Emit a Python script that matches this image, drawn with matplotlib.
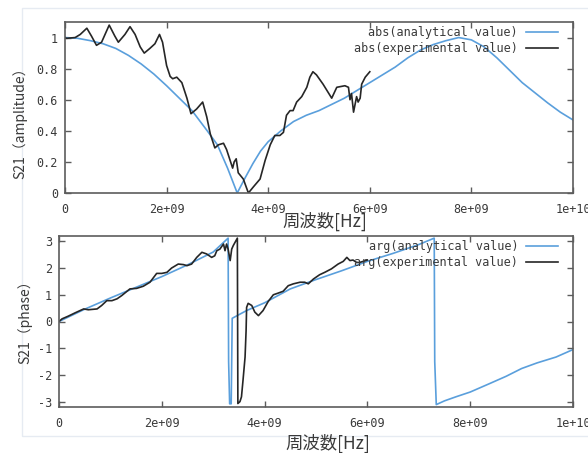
import matplotlib
matplotlib.use("Agg")
import matplotlib.pyplot as plt
import numpy as np
from matplotlib.patches import Rectangle

# frequencies are kept in GHz and scaled to Hz when plotted
AMP_ANA_F = [0.0, 0.25, 0.5, 0.75, 1.0, 1.25, 1.5, 1.75, 2.0, 2.25, 2.5, 2.65, 2.8, 3.0, 3.2,
             3.39, 3.55, 3.7, 3.85, 4.0, 4.25, 4.5, 4.75, 5.0, 5.25, 5.5, 5.75, 6.0, 6.25, 6.5,
             6.75, 7.0, 7.25, 7.5, 7.75, 8.0, 8.25, 8.5, 8.75, 9.0, 9.25, 9.5, 9.75, 10.0]
AMP_ANA_V = [1.0, 0.995, 0.98, 0.96, 0.93, 0.885, 0.83, 0.765, 0.69, 0.61, 0.53, 0.465, 0.4,
             0.31, 0.16, 0.0, 0.1, 0.19, 0.27, 0.33, 0.4, 0.46, 0.5, 0.53, 0.57, 0.61, 0.66,
             0.71, 0.76, 0.81, 0.87, 0.92, 0.955, 0.98, 1.0, 0.985, 0.94, 0.87, 0.79, 0.71,
             0.645, 0.58, 0.52, 0.47]

AMP_EXP_F = [0.0, 0.03, 0.2, 0.3, 0.43, 0.52, 0.62, 0.72, 0.87, 0.98, 1.05, 1.18, 1.28, 1.38,
             1.48, 1.56, 1.67, 1.77, 1.86, 1.92, 2.0, 2.07, 2.12, 2.2, 2.3, 2.4, 2.48, 2.59,
             2.71, 2.79, 2.86, 2.95, 3.02, 3.12, 3.18, 3.25, 3.3, 3.33, 3.37, 3.41, 3.51, 3.61,
             3.71, 3.84, 3.94, 4.04, 4.13, 4.23, 4.3, 4.36, 4.43, 4.49, 4.56, 4.66, 4.76, 4.82,
             4.88, 4.95, 5.08, 5.25, 5.35, 5.51, 5.58, 5.61, 5.64, 5.68, 5.74, 5.77, 5.81, 5.84,
             5.91, 6.0]
AMP_EXP_V = [1.0, 0.995, 1.0, 1.02, 1.06, 1.01, 0.95, 0.97, 1.08, 1.01, 0.97, 1.02, 1.07, 1.02,
             0.94, 0.9, 0.93, 0.96, 1.02, 0.97, 0.82, 0.75, 0.735, 0.745, 0.71, 0.61, 0.51, 0.54,
             0.585, 0.49, 0.38, 0.29, 0.31, 0.32, 0.28, 0.21, 0.16, 0.2, 0.22, 0.13, 0.09, 0.0,
             0.04, 0.09, 0.21, 0.31, 0.37, 0.37, 0.39, 0.5, 0.53, 0.53, 0.585, 0.62, 0.68, 0.745,
             0.78, 0.76, 0.7, 0.61, 0.68, 0.69, 0.68, 0.6, 0.64, 0.52, 0.62, 0.585, 0.61, 0.7,
             0.745, 0.78]

PHASE_ANA_F = [0.0, 0.5, 1.0, 1.5, 2.0, 2.5, 3.0, 3.29, 3.3, 3.32, 3.35, 3.37, 3.65, 4.0, 4.5,
               5.0, 5.5, 6.0, 6.5, 7.0, 7.3, 7.31, 7.34, 7.5, 7.72, 8.0, 8.37, 8.7, 9.0, 9.3,
               9.67, 10.0]
PHASE_ANA_V = [0.0, 0.46, 0.88, 1.28, 1.68, 2.12, 2.6, 3.12, -1.5, -3.08, -3.08, 0.12, 0.41, 0.7,
               1.22, 1.57, 1.9, 2.25, 2.55, 2.88, 3.12, -1.5, -3.11, -2.97, -2.82, -2.64, -2.33,
               -2.05, -1.76, -1.55, -1.33, -1.05]

PHASE_EXP_F = [0.0, 0.06, 0.18, 0.32, 0.48, 0.57, 0.74, 0.83, 0.93, 1.03, 1.13, 1.22, 1.38, 1.51,
               1.64, 1.77, 1.9, 2.0, 2.1, 2.19, 2.32, 2.42, 2.49, 2.58, 2.68, 2.78, 2.87, 2.97,
               3.03, 3.07, 3.13, 3.2, 3.23, 3.26, 3.29, 3.33, 3.36, 3.39, 3.47, 3.48, 3.52, 3.55,
               3.58, 3.62, 3.64, 3.65, 3.68, 3.75, 3.81, 3.88, 3.97, 4.07, 4.17, 4.26, 4.36, 4.46,
               4.56, 4.69, 4.78, 4.85, 4.95, 5.07, 5.17, 5.3, 5.43, 5.53, 5.6, 5.66, 5.72, 5.79,
               5.85, 6.0]
PHASE_EXP_V = [0.0, 0.1, 0.2, 0.33, 0.47, 0.44, 0.47, 0.6, 0.78, 0.78, 0.85, 0.97, 1.22, 1.24,
               1.32, 1.47, 1.8, 1.8, 1.84, 2.0, 2.15, 2.13, 2.09, 2.15, 2.4, 2.59, 2.53, 2.4,
               2.46, 2.65, 2.71, 2.9, 2.65, 2.9, 2.71, 2.28, 2.71, 2.84, 3.12, -3.07, -3.0, -2.82,
               -2.2, -1.33, -0.34, 0.53, 0.68, 0.6, 0.35, 0.22, 0.41, 0.75, 1.0, 1.06, 1.13, 1.34,
               1.41, 1.47, 1.47, 1.41, 1.59, 1.75, 1.84, 1.97, 2.15, 2.25, 2.4, 2.28, 2.3, 2.21,
               2.21, 2.3]

X_TICKS = [0, 2e9, 4e9, 6e9, 8e9, 1e10]
X_TICK_LABELS = ["0", "2e+09", "4e+09", "6e+09", "8e+09", "1e+10"]
AMP_TICKS = [0, 0.2, 0.4, 0.6, 0.8, 1.0]
AMP_TICK_LABELS = ["0", "0.2", "0.4", "0.6", "0.8", "1"]
PHASE_TICKS = [-3, -2, -1, 0, 1, 2, 3]

BLUE = "#5a9fdc"
BLACK = "#262626"
SPINE = "#5c5c5c"
TEXT = "#3a3a3a"
MONO = "DejaVu Sans Mono"
CJK = ["Noto Sans CJK JP", "DejaVu Sans"]


def style_axes(ax, yticks, ylabels):
    ax.set_xlim(0, 1e10)
    ax.set_xticks(X_TICKS, X_TICK_LABELS)
    ax.set_yticks(yticks, ylabels)
    ax.tick_params(direction="in", length=4, width=1.0, color=SPINE, top=True, right=True,
                   labelsize=8.5, labelcolor=TEXT)
    ax.tick_params(axis="x", pad=7)
    ax.tick_params(axis="y", pad=5)
    for lab in ax.get_xticklabels() + ax.get_yticklabels():
        lab.set_family(MONO)
    for sp in ax.spines.values():
        sp.set_color(SPINE)
        sp.set_linewidth(1.2)


def add_legend(ax, anchor):
    leg = ax.legend(loc="upper right", bbox_to_anchor=anchor, frameon=False, markerfirst=False,
                    handlelength=2.7, handletextpad=0.7, labelspacing=0.2, borderpad=0,
                    borderaxespad=0, prop={"family": MONO, "size": 8.5})
    for t in leg.get_texts():
        t.set_color(TEXT)


fig = plt.figure(figsize=(5.88, 4.53), dpi=100)
fig.patch.set_facecolor("white")

# faint page border around both panels
fig.patches.append(Rectangle((22 / 588, 1 - 436 / 453), 600 / 588, 428 / 453,
                             transform=fig.transFigure, fill=False, edgecolor="#e6ebf2",
                             linewidth=1.0))

ax1 = fig.add_axes([65 / 588, 1 - 193 / 453, 508 / 588, 171 / 453])
ax1.plot(np.asarray(AMP_ANA_F) * 1e9, AMP_ANA_V, color=BLUE, lw=1.2,
         label="abs(analytical value)")
ax1.plot(np.asarray(AMP_EXP_F) * 1e9, AMP_EXP_V, color=BLACK, lw=1.2,
         label="abs(experimental value)")
ax1.set_ylim(0, 1.1)
style_axes(ax1, AMP_TICKS, AMP_TICK_LABELS)
add_legend(ax1, (0.9705, 0.975))

ax2 = fig.add_axes([59 / 588, 1 - 407 / 453, 514 / 588, 171 / 453])
ax2.plot(np.asarray(PHASE_ANA_F) * 1e9, PHASE_ANA_V, color=BLUE, lw=1.2,
         label="arg(analytical value)")
ax2.plot(np.asarray(PHASE_EXP_F) * 1e9, PHASE_EXP_V, color=BLACK, lw=1.2,
         label="arg(experimental value)")
ax2.set_ylim(-3.2, 3.2)
style_axes(ax2, PHASE_TICKS, [str(t) for t in PHASE_TICKS])
add_legend(ax2, (0.9715, 0.975))

fig.text(325 / 588, 1 - 221 / 453, "周波数[Hz]", family=CJK, fontsize=12.5, color=TEXT,
         ha="center", va="center")
fig.text(328 / 588, 1 - 443 / 453, "周波数[Hz]", family=CJK, fontsize=12.5, color=TEXT,
         ha="center", va="center")
fig.text(20 / 588, 1 - 120 / 453, "S21（amplitude）", family=CJK, fontsize=10, color=TEXT,
         rotation=90, ha="center", va="center")
fig.text(25 / 588, 1 - 319 / 453, "S21（phase）", family=CJK, fontsize=10, color=TEXT,
         rotation=90, ha="center", va="center")

fig.savefig("out.png", dpi=100)
